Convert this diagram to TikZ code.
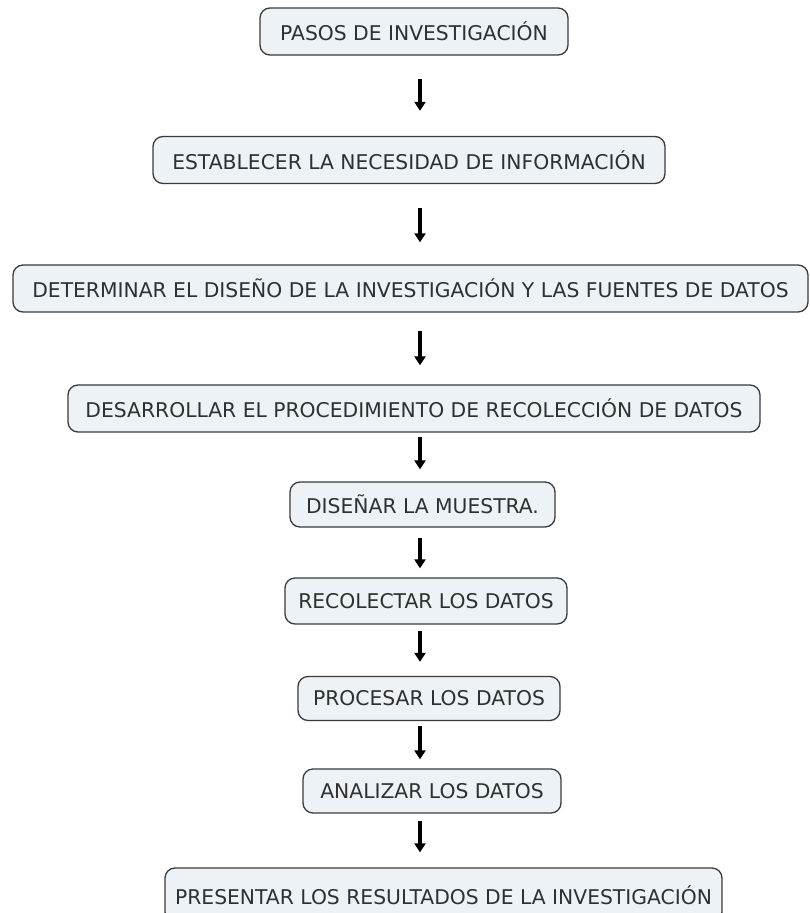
\documentclass[tikz,border=0pt]{standalone}
\usepackage{fontspec}
\setmainfont{DejaVu Sans}
\usetikzlibrary{arrows.meta, positioning}
\definecolor{cInk}{HTML}{303030}
\definecolor{cLine}{HTML}{3A3A3A}
\definecolor{cBox}{HTML}{ECF2F5}
\tikzset{
  stepbox/.style={rectangle, rounded corners=10pt, draw=cLine, fill=cBox, line width=1.3pt,
                  font=\fontsize{20.3}{24}\selectfont, text=cInk, inner xsep=10pt, inner ysep=0pt,
                  minimum height=47pt, align=center},
  flow/.style={-{Triangle[length=9pt, width=11pt]}, line width=3.2pt, draw=black},
}
\begin{document}
\begin{tikzpicture}[x=1pt, y=-1pt]
  \useasboundingbox (0,0) rectangle (809,913);
  % ---- research steps, top to bottom
  \node[stepbox, minimum width=308pt] (n1) at (414,31.5) {PASOS DE INVESTIGACIÓN};
  \node[stepbox, minimum width=512pt] (n2) at (409,160) {ESTABLECER LA NECESIDAD DE INFORMACIÓN};
  \node[stepbox, minimum width=795pt] (n3) at (410.5,288.5) {DETERMINAR EL DISEÑO DE LA INVESTIGACIÓN Y LAS FUENTES DE DATOS};
  \node[stepbox, minimum width=692pt] (n4) at (414,408.5) {DESARROLLAR EL PROCEDIMIENTO DE RECOLECCIÓN DE DATOS};
  \node[stepbox, minimum width=265pt, minimum height=45pt] (n5) at (422.5,504.5) {DISEÑAR LA MUESTRA.};
  \node[stepbox, minimum width=282pt, minimum height=46pt] (n6) at (426,601) {RECOLECTAR LOS DATOS};
  \node[stepbox, minimum width=262pt, minimum height=44pt] (n7) at (429,698.5) {PROCESAR LOS DATOS};
  \node[stepbox, minimum width=258pt, minimum height=44pt] (n8) at (432,791) {ANALIZAR LOS DATOS};
  \node[stepbox, minimum width=557pt, minimum height=54pt] (n9) at (443.5,895) {PRESENTAR LOS RESULTADOS DE LA INVESTIGACIÓN};

  % ---- arrows, all on one vertical line
  \coordinate (ax) at (420,0);
  \foreach \a/\b/\s/\e in {n1/n2/23/25, n2/n3/24/22, n3/n4/18/19, n4/n5/4/12,
                           n5/n6/10/9, n6/n7/6/14, n7/n8/5/9, n8/n9/7/15}
    \draw[flow, shorten <=\s pt, shorten >=\e pt] (\a.south -| ax) -- (\b.north -| ax);
\end{tikzpicture}
\end{document}
